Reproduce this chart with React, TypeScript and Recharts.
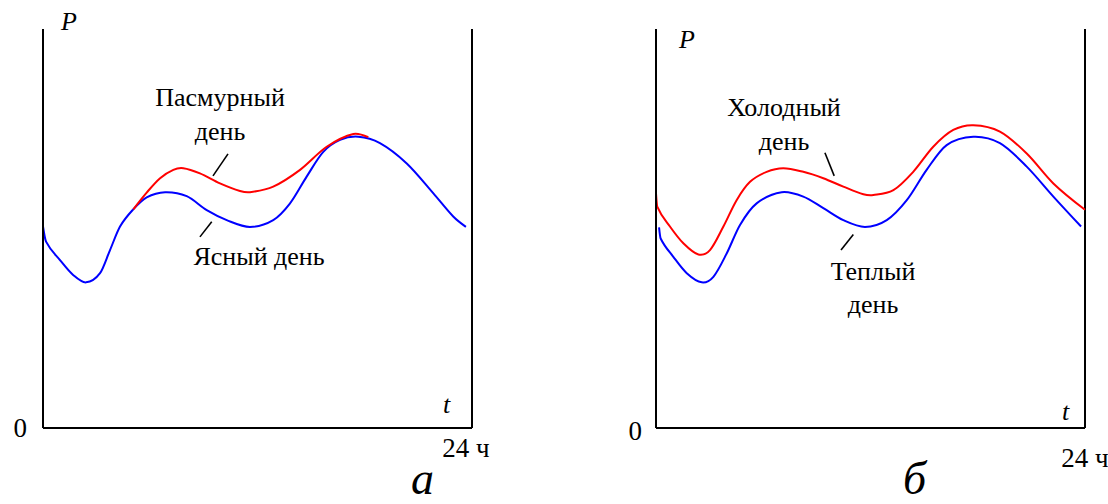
import React from 'react';
import { LineChart, Line, XAxis, YAxis, ReferenceLine } from 'recharts';

// Daily load curves P(t), t in hours (0–24), P in relative units (0–100)

// Panel "а": clear day vs overcast day
const clearDayHours = [0, 0.17, 0.95, 1.7, 2.41, 3.19, 3.75, 4.31, 5.05, 5.8, 6.83, 8.04, 9.16, 10.28, 11.58, 12.88, 13.82, 14.75, 15.68, 16.62, 17.64, 18.85, 20.35, 21.84, 22.95, 23.66];
const clearDayLoad = [50.5, 46.7, 42.1, 38.3, 36.5, 38.8, 44.6, 50.5, 54.8, 57.8, 59.1, 58.1, 54.6, 52.1, 50.4, 52.1, 56.3, 63.0, 69.2, 72.2, 73.0, 71.4, 66.3, 58.8, 53.0, 50.4];

const overcastDayHours = [5.05, 5.8, 6.55, 7.29, 7.85, 8.78, 9.9, 11.02, 11.58, 12.88, 14.38, 15.87, 17.36, 18.2];
const overcastDayLoad = [54.8, 59.0, 62.6, 64.7, 65.1, 63.8, 61.3, 59.4, 59.1, 60.5, 64.7, 70.5, 73.7, 72.9];

// Panel "б": warm day vs cold day
const warmDayHours = [0.17, 0.26, 0.97, 1.72, 2.56, 3.21, 3.96, 4.7, 5.63, 7.03, 8.24, 9.36, 10.48, 11.69, 12.91, 14.03, 15.14, 16.26, 17.75, 19.24, 20.74, 22.23, 23.78];
const warmDayLoad = [50.3, 47.5, 42.9, 38.8, 36.5, 37.9, 43.8, 50.9, 56.3, 59.1, 58.0, 55.1, 52.1, 50.4, 52.1, 57.1, 64.7, 70.9, 73.0, 71.4, 65.5, 58.0, 50.5];

const coldDayHours = [0, 0.07, 0.78, 1.53, 2.37, 3.02, 3.77, 4.51, 5.26, 6.19, 7.12, 8.24, 9.36, 10.48, 11.6, 12.16, 13.28, 14.39, 15.51, 16.63, 17.75, 19.24, 20.74, 22.23, 24];
const coldDayLoad = [58.8, 55.5, 50.5, 46.3, 43.5, 44.6, 50.5, 57.1, 61.7, 64.2, 65.1, 64.2, 62.6, 60.5, 58.6, 58.4, 59.6, 64.2, 70.5, 74.7, 75.9, 74.3, 68.8, 61.3, 54.7];

const xTicks = [24];
const yTicks = [0];

const toPoints = (hours: number[], load: number[]) => hours.map((t, i) => ({ t, p: load[i] }));

const FONT = 'Liberation Serif';
const RED = '#ff0000';
const BLUE = '#0000ff';

// Catmull-Rom style cubic curve (centred-difference tangents) as a d3-style curve factory.
const smoothCurve = (context: any) => {
  let xs: number[] = [];
  let ys: number[] = [];
  return {
    areaStart() {},
    areaEnd() {},
    lineStart() {
      xs = [];
      ys = [];
    },
    point(x: number, y: number) {
      xs.push(+x);
      ys.push(+y);
    },
    lineEnd() {
      const n = xs.length;
      if (n === 0) return;
      context.moveTo(xs[0], ys[0]);
      if (n === 1) return;
      if (n === 2) {
        context.lineTo(xs[1], ys[1]);
        return;
      }
      const m: number[] = new Array(n);
      for (let i = 1; i < n - 1; i++) {
        m[i] = (ys[i + 1] - ys[i - 1]) / (xs[i + 1] - xs[i - 1]);
      }
      const sFirst = (ys[1] - ys[0]) / (xs[1] - xs[0]);
      const sLast = (ys[n - 1] - ys[n - 2]) / (xs[n - 1] - xs[n - 2]);
      m[0] = (3 * sFirst - m[1]) / 2;
      m[n - 1] = (3 * sLast - m[n - 2]) / 2;
      for (let i = 0; i < n - 1; i++) {
        const d = (xs[i + 1] - xs[i]) / 3;
        context.bezierCurveTo(xs[i] + d, ys[i] + d * m[i], xs[i + 1] - d, ys[i + 1] - d * m[i + 1], xs[i + 1], ys[i + 1]);
      }
    },
  };
};

type PanelProps = {
  left: number;
  marginLeft: number;
  marginRight: number;
  upper: { t: number; p: number }[];
  lower: { t: number; p: number }[];
  upperLeader: [number, number, number, number];
  lowerLeader: [number, number, number, number];
  xTickDx: number;
  xTickDy: number;
  yTickDx: number;
  yTickDy: number;
};

const Panel = ({ left, marginLeft, marginRight, upper, lower, upperLeader, lowerLeader, xTickDx, xTickDy, yTickDx, yTickDy }: PanelProps) => (
  <div style={{ position: 'absolute', left, top: 0 }}>
    <LineChart width={554} height={504} margin={{ top: 29, right: marginRight, bottom: 0, left: marginLeft }}>
      <XAxis
        type="number"
        dataKey="t"
        domain={[0, 24]}
        ticks={xTicks}
        height={76}
        tickSize={0}
        tickMargin={0}
        tickLine={false}
        axisLine={{ stroke: '#000', strokeWidth: 2 }}
        tick={(props: any) => (
          <text x={props.x + xTickDx} y={props.y + xTickDy} textAnchor="middle" style={{ fontFamily: FONT, fontSize: 27 }} fill="#000">
            {`${props.payload.value} ч`}
          </text>
        )}
      />
      <YAxis
        type="number"
        dataKey="p"
        domain={[0, 100]}
        ticks={yTicks}
        width={43}
        tickSize={0}
        tickMargin={0}
        tickLine={false}
        axisLine={{ stroke: '#000', strokeWidth: 2 }}
        tick={(props: any) => (
          <text x={props.x + yTickDx} y={props.y + yTickDy} textAnchor="end" style={{ fontFamily: FONT, fontSize: 27 }} fill="#000">
            {props.payload.value}
          </text>
        )}
      />
      <ReferenceLine x={24} stroke="#000" strokeWidth={2} />
      <Line data={lower} dataKey="p" type={smoothCurve as any} stroke={BLUE} strokeWidth={2} dot={false} isAnimationActive={false} />
      <Line data={upper} dataKey="p" type={smoothCurve as any} stroke={RED} strokeWidth={2} dot={false} isAnimationActive={false} />
      <ReferenceLine
        segment={[{ x: upperLeader[0], y: upperLeader[1] }, { x: upperLeader[2], y: upperLeader[3] }]}
        stroke="#000"
        strokeWidth={1.6}
      />
      <ReferenceLine
        segment={[{ x: lowerLeader[0], y: lowerLeader[1] }, { x: lowerLeader[2], y: lowerLeader[3] }]}
        stroke="#000"
        strokeWidth={1.6}
      />
    </LineChart>
  </div>
);

export default function App() {
  const label = { style: { fontFamily: FONT, fontSize: 26 }, fill: '#000' };
  const italic = (size: number) => ({ style: { fontFamily: FONT, fontSize: size, fontStyle: 'italic' as const }, fill: '#000' });
  return (
    <div style={{ position: 'absolute', left: 0, top: 0, width: 1108, height: 504, background: '#fff', overflow: 'hidden' }}>
      <Panel
        left={0}
        marginLeft={0}
        marginRight={82}
        lower={toPoints(clearDayHours, clearDayLoad)}
        upper={toPoints(overcastDayHours, overcastDayLoad)}
        upperLeader={[10.35, 68.7, 9.51, 63.2]}
        lowerLeader={[9.44, 51.7, 8.78, 47.9]}
        xTickDx={-6}
        xTickDy={29}
        yTickDx={-16}
        yTickDy={9}
      />
      <Panel
        left={554}
        marginLeft={59}
        marginRight={23}
        lower={toPoints(warmDayHours, warmDayLoad)}
        upper={toPoints(coldDayHours, coldDayLoad)}
        upperLeader={[9.45, 69.0, 9.97, 63.2]}
        lowerLeader={[11.04, 48.5, 10.35, 44.6]}
        xTickDx={0}
        xTickDy={39}
        yTickDx={-14}
        yTickDy={12}
      />
      <svg width={1108} height={504} style={{ position: 'absolute', left: 0, top: 0, pointerEvents: 'none' }}>
        {/* panel а */}
        <text x={61} y={30} {...italic(26)}>P</text>
        <text x={443} y={413} {...italic(26)}>t</text>
        <text x={220} y={106} textAnchor="middle" {...label}>Пасмурный</text>
        <text x={220} y={140} textAnchor="middle" {...label}>день</text>
        <text x={259} y={265} textAnchor="middle" {...label}>Ясный день</text>
        <text x={411} y={494} {...italic(46)}>а</text>
        {/* panel б */}
        <text x={679} y={47.7} {...italic(26)}>P</text>
        <text x={1062} y={420} {...italic(26)}>t</text>
        <text x={784} y={116} textAnchor="middle" {...label}>Холодный</text>
        <text x={784} y={150} textAnchor="middle" {...label}>день</text>
        <text x={873} y={280} textAnchor="middle" {...label}>Теплый</text>
        <text x={873} y={313} textAnchor="middle" {...label}>день</text>
        <text x={903} y={494} {...italic(46)}>б</text>
      </svg>
    </div>
  );
}
